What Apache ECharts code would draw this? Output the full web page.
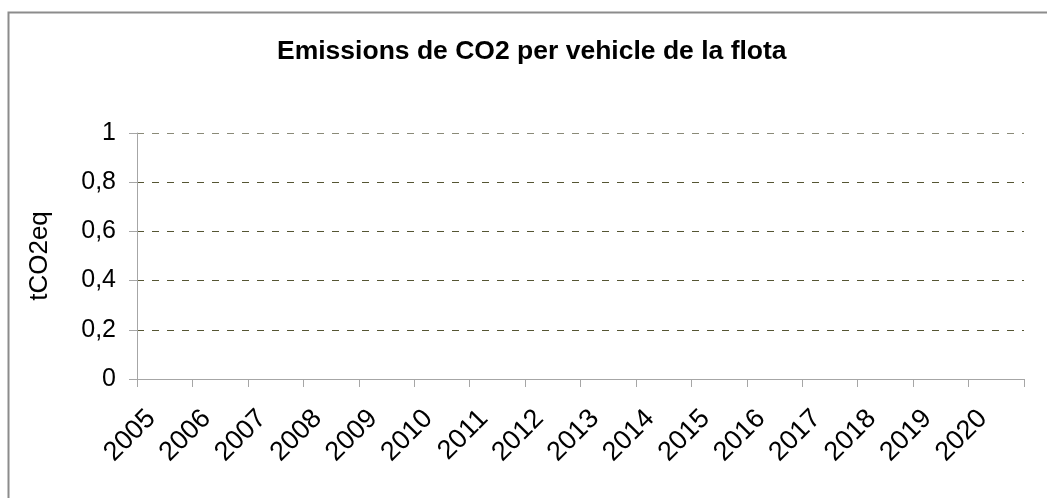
<!DOCTYPE html>
<html>
<head>
<meta charset="utf-8">
<script src="https://cdn.jsdelivr.net/npm/echarts@6/dist/echarts.min.js"></script>
<style>
  html, body { margin: 0; padding: 0; background: #fff; }
  #chart { width: 1047px; height: 498px; }
</style>
</head>
<body>
<div id="chart"></div>
<script>
// Chart data
const years = ['2005', '2006', '2007', '2008', '2009', '2010', '2011', '2012',
    '2013', '2014', '2015', '2016', '2017', '2018', '2019', '2020'];
// no values are plotted in the reference
const emissionsPerVehicle = [null, null, null, null, null, null, null, null,
    null, null, null, null, null, null, null, null];
const yTicks = [0, 0.2, 0.4, 0.6, 0.8, 1];

const font = 'Liberation Sans, Arial, sans-serif';

const chartDom = document.getElementById('chart');
const myChart = echarts.init(chartDom);

const option = {
    backgroundColor: '#fff',
    animation: false,
    textStyle: { fontFamily: font },
    graphic: [
        {
            // outer frame, right/bottom edges fall outside the picture
            type: 'rect',
            left: 6,
            top: 10,
            shape: { width: 1100, height: 600 },
            style: { fill: 'none', stroke: '#8c8c8c', lineWidth: 2 },
            silent: true
        }
    ],
    title: {
        text: 'Emissions de CO2 per vehicle de la flota',
        left: 272,
        top: 33,
        textStyle: { fontFamily: font, fontSize: 26.5, fontWeight: 'bold', color: '#000' }
    },
    grid: {
        left: 137,
        right: 23,
        top: 133,
        bottom: 119
    },
    xAxis: {
        type: 'category',
        data: years,
        boundaryGap: true,
        axisLine: { lineStyle: { color: '#a6a6a6', width: 1 } },
        axisTick: { show: true, length: 8, alignWithLabel: false, lineStyle: { color: '#a6a6a6' } },
        axisLabel: {
            rotate: 45,
            interval: 0,
            margin: 22,
            padding: [0, 19, 0, 0],
            fontFamily: font,
            fontSize: 27,
            color: '#000'
        },
        splitLine: { show: false }
    },
    yAxis: {
        type: 'value',
        min: yTicks[0],
        max: yTicks[yTicks.length - 1],
        interval: 0.2,
        name: 'tCO2eq',
        nameLocation: 'middle',
        nameGap: 84,
        nameRotate: 90,
        nameTextStyle: { fontFamily: font, fontSize: 26, color: '#000' },
        axisLine: { show: true, lineStyle: { color: '#a6a6a6', width: 1 } },
        axisTick: { show: true, length: 8, lineStyle: { color: '#a6a6a6' } },
        axisLabel: {
            margin: 21,
            fontFamily: font,
            fontSize: 25,
            color: '#000',
            formatter: value => String(Math.round(value * 10) / 10).replace('.', ',')
        },
        splitLine: {
            show: true,
            lineStyle: {
                color: ['#555533', '#555533', '#555533', '#555533', '#555533', '#8a8a78'],
                type: [7, 8],
                width: 1
            }
        }
    },
    series: [
        {
            name: 'Emissions',
            type: 'line',
            data: emissionsPerVehicle
        }
    ]
};

myChart.setOption(option);
</script>
</body>
</html>
